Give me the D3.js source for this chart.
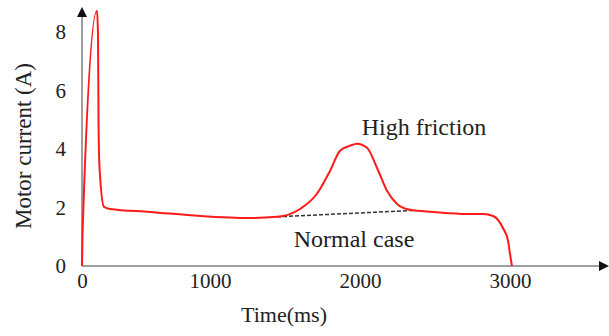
<!DOCTYPE html>
<html>
<head>
<meta charset="utf-8">
<script src="https://cdn.jsdelivr.net/npm/d3@7"></script>
<style>
  body { margin: 0; background: #fff; }
  text { font-family: "Liberation Serif", "Times New Roman", serif; fill: #222; }
</style>
</head>
<body>
<div class="chart"></div>
<script>
// time (ms) and motor current (A)
const timeMs = [0, 4, 117, 125, 129, 137, 172, 219, 531, 922, 1267, 1447, 1600, 1713, 1800, 1867, 1933, 1980, 2047, 2113, 2180, 2247, 2333, 2487, 2713, 2820, 2887, 2953, 2987, 3000, 3013];
const current = [0, 1.1, 8.73, 7.95, 4.97, 3.36, 2.02, 1.95, 1.85, 1.71, 1.64, 1.68, 1.95, 2.47, 3.25, 3.94, 4.11, 4.18, 4.04, 3.36, 2.57, 2.12, 1.92, 1.85, 1.78, 1.78, 1.71, 1.30, 0.86, 0.41, 0];
const normalTime = [1447, 2353];
const normalCurrent = [1.68, 1.90];
const xTicks = [0, 1000, 2000, 3000];
const yTicks = [0, 2, 4, 6, 8];

const W = 609, H = 336;
const x0 = 82, y0 = 266;

let svg = d3.select('.chart')
  .append('svg')
  .attr('width', W)
  .attr('height', H);

// the figure's time axis is not uniform below 1000 ms
let x = d3.scaleLinear().domain([0, 1000, 3000]).range([x0, 210, 510]);
let y = d3.scaleLinear().domain([0, 8]).range([y0, 32]);

let axisColor = '#7f7f7f';

// axes lines with arrows
svg.append('line')
  .attr('x1', x0).attr('y1', y0).attr('x2', x0).attr('y2', 14)
  .style('stroke', axisColor).style('stroke-width', 1.5);
svg.append('path')
  .attr('d', `M${x0 - 5},17 L${x0},7 L${x0 + 5},17 Z`)
  .style('fill', '#111');
svg.append('line')
  .attr('x1', x0).attr('y1', y0).attr('x2', 602).attr('y2', y0)
  .style('stroke', axisColor).style('stroke-width', 1.5);
svg.append('path')
  .attr('d', `M599,${y0 - 5} L609,${y0} L599,${y0 + 5} Z`)
  .style('fill', '#111');

// tick labels
let xAxis = svg.append('g')
  .attr('transform', `translate(0, ${y0})`)
  .call(d3.axisBottom(x).tickValues(xTicks).tickSize(0).tickPadding(6).tickFormat(d3.format('d')));
xAxis.select('.domain').remove();
xAxis.selectAll('text')
  .style('font-size', '21px')
  .style('font-family', '"Liberation Serif", serif')
  .attr('fill', '#222')
  .attr('dy', '0.75em');

let yAxis = svg.append('g')
  .attr('transform', `translate(${x0}, 0)`)
  .call(d3.axisLeft(y).tickValues(yTicks).tickSize(0).tickPadding(16));
yAxis.select('.domain').remove();
yAxis.selectAll('text')
  .style('font-size', '21px')
  .style('font-family', '"Liberation Serif", serif')
  .attr('fill', '#222');

// axis titles
svg.append('text')
  .attr('x', 284).attr('y', 322)
  .style('text-anchor', 'middle')
  .style('font-size', '22px')
  .text('Time(ms)');
svg.append('text')
  .attr('transform', 'translate(31, 146) rotate(-90)')
  .style('text-anchor', 'middle')
  .style('font-size', '23px')
  .text('Motor current (A)');

// normal case reference
let line = d3.line()
  .x(d => x(d[0]))
  .y(d => y(d[1]));

svg.append('path')
  .datum(d3.zip(normalTime, normalCurrent))
  .attr('d', line)
  .style('fill', 'none')
  .style('stroke', '#333')
  .style('stroke-width', 1.5)
  .style('stroke-dasharray', '4,2');

// motor current curve
svg.append('path')
  .datum(d3.zip(timeMs, current))
  .attr('d', line.curve(d3.curveMonotoneX))
  .style('fill', 'none')
  .style('stroke', '#ff1a1a')
  .style('stroke-width', 2);

// annotations
svg.append('text')
  .attr('x', 424).attr('y', 135)
  .style('text-anchor', 'middle')
  .style('font-size', '24px')
  .text('High friction');
svg.append('text')
  .attr('x', 354).attr('y', 247)
  .style('text-anchor', 'middle')
  .style('font-size', '24px')
  .text('Normal case');
</script>
</body>
</html>
